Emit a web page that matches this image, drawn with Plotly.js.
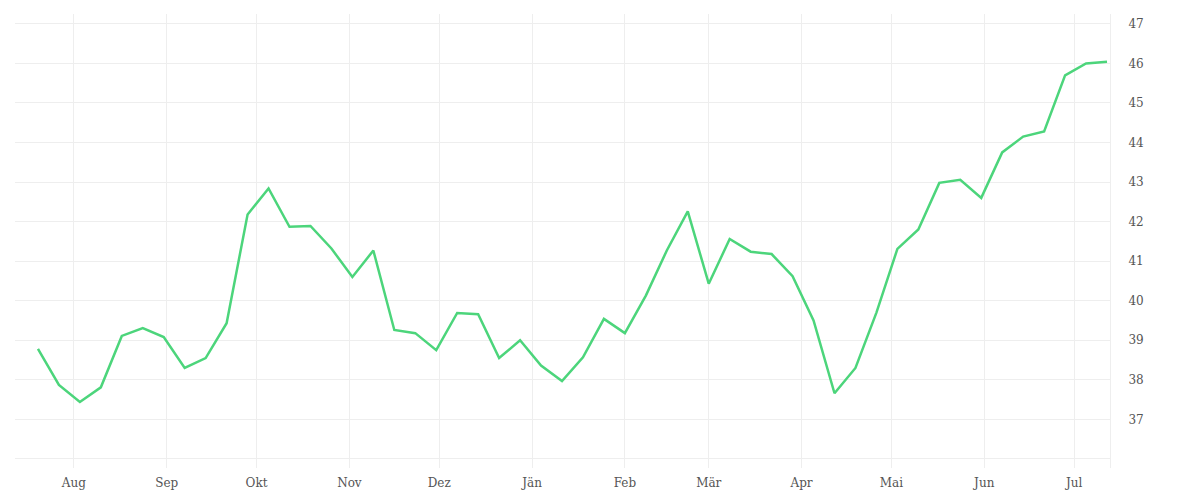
<!DOCTYPE html>
<html>
<head>
<meta charset="utf-8">
<script src="https://cdn.plot.ly/plotly-3.0.1.min.js"></script>
<style>html,body{margin:0;padding:0;background:#fff;}#chart{width:1200px;height:500px;}</style>
</head>
<body>
<div id="chart"></div>
<script>
const dates = [
  '2022-07-20','2022-07-27','2022-08-03','2022-08-10','2022-08-17','2022-08-24','2022-08-31',
  '2022-09-07','2022-09-14','2022-09-21','2022-09-28','2022-10-05','2022-10-12','2022-10-19',
  '2022-10-26','2022-11-02','2022-11-09','2022-11-16','2022-11-23','2022-11-30','2022-12-07',
  '2022-12-14','2022-12-21','2022-12-28','2023-01-04','2023-01-11','2023-01-18','2023-01-25',
  '2023-02-01','2023-02-08','2023-02-15','2023-02-22','2023-03-01','2023-03-08','2023-03-15',
  '2023-03-22','2023-03-29','2023-04-05','2023-04-12','2023-04-19','2023-04-26','2023-05-03',
  '2023-05-10','2023-05-17','2023-05-24','2023-05-31','2023-06-07','2023-06-14','2023-06-21',
  '2023-06-28','2023-07-05','2023-07-12'
];
const values = [
  38.78, 37.87, 37.44, 37.81, 39.11, 39.31, 39.08,
  38.30, 38.55, 39.43, 42.18, 42.84, 41.87, 41.89,
  41.32, 40.60, 41.27, 39.26, 39.18, 38.75, 39.69,
  39.66, 38.55, 39.00, 38.36, 37.97, 38.57, 39.54,
  39.18, 40.13, 41.27, 42.26, 40.43, 41.56, 41.24,
  41.18, 40.62, 39.50, 37.66, 38.30, 39.70, 41.31,
  41.80, 42.98, 43.06, 42.60, 43.75, 44.15, 44.28,
  45.70, 46.00, 46.04
];
const monthTicks = ['2022-08-01','2022-09-01','2022-10-01','2022-11-01','2022-12-01','2023-01-01',
  '2023-02-01','2023-03-01','2023-04-01','2023-05-01','2023-06-01','2023-07-01'];
const monthLabels = ['Aug','Sep','Okt','Nov','Dez','Jän','Feb','Mär','Apr','Mai','Jun','Jul'];
const yTicks = [36,37,38,39,40,41,42,43,44,45,46,47];
const yLabels = ['','37','38','39','40','41','42','43','44','45','46','47'];

const trace = {
  x: dates, y: values, type: 'scatter', mode: 'lines',
  line: {color: '#4cd57b', width: 2.5},
  hoverinfo: 'skip'
};
const layout = {
  width: 1200, height: 500,
  margin: {l: 15, r: 90, t: 14, b: 32},
  paper_bgcolor: '#ffffff', plot_bgcolor: '#ffffff',
  showlegend: false,
  font: {family: '"DejaVu Serif", serif', size: 12, color: '#555555'},
  xaxis: {
    type: 'date',
    range: ['2022-07-12 08:00', '2023-07-13'],
    tickvals: monthTicks, ticktext: monthLabels,
    showgrid: true, gridcolor: '#eeeeee', gridwidth: 1,
    zeroline: false, showline: false, ticks: '',
    ticklabelstandoff: 6,
    tickfont: {family: '"DejaVu Serif", serif', size: 12, color: '#555555'}
  },
  yaxis: {
    side: 'right',
    range: [35.77, 47.25],
    tickvals: yTicks, ticktext: yLabels,
    showgrid: true, gridcolor: '#eeeeee', gridwidth: 1,
    zeroline: false, showline: true, linecolor: '#eeeeee', linewidth: 1,
    ticks: '', ticklabelstandoff: 15,
    tickfont: {family: '"DejaVu Serif", serif', size: 12, color: '#555555'}
  }
};
Plotly.newPlot('chart', [trace], layout, {displayModeBar: false, staticPlot: true});
</script>
</body>
</html>
